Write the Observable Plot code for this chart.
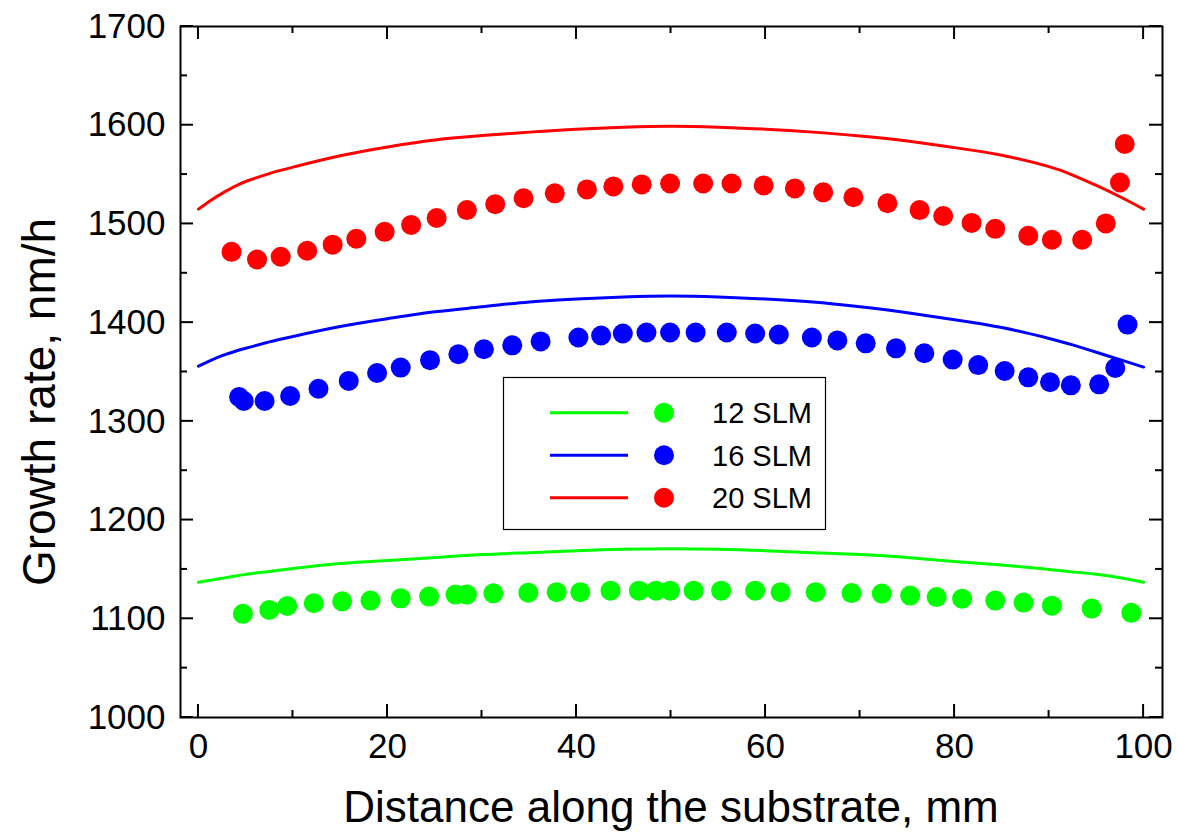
<!DOCTYPE html>
<html><head><meta charset="utf-8">
<script src="https://cdn.jsdelivr.net/npm/d3@7"></script>
<script src="https://cdn.jsdelivr.net/npm/@observablehq/plot@0.6"></script>
<style>body{margin:0;background:#fff} #chart{width:1178px;height:832px}</style>
</head><body><div id="chart"></div>
<script>
// ---- data ----
const seriesNames = ["12 SLM", "16 SLM", "20 SLM"];
const seriesColors = ["#00ff00", "#0000ff", "#ff0000"];

const greenX = [4.7,7.5,9.4,12.2,15.2,18.2,21.4,24.4,27.2,28.4,31.2,34.9,37.9,40.4,43.6,46.6,48.4,49.9,52.4,55.3,58.9,61.6,65.3,69.1,72.3,75.3,78.1,80.8,84.3,87.3,90.3,94.5,98.7];
const greenY = [1105,1109,1113,1115.7,1117.7,1118.4,1120.7,1122.5,1124.5,1124.5,1125.8,1126.5,1127,1127,1128.5,1128.5,1128.5,1128.5,1128.5,1128.5,1128.5,1127,1127,1126,1125.5,1123.5,1122,1120.4,1118.4,1116.4,1113.3,1110.3,1106];

const blueX = [4.3,4.8,7.0,9.7,12.7,15.9,18.9,21.4,24.5,27.5,30.2,33.2,36.2,40.2,42.6,44.9,47.4,49.9,52.6,55.9,58.9,61.4,64.9,67.6,70.6,73.8,76.8,79.8,82.5,85.3,87.8,90.1,92.3,95.3,97.0,98.3];
const blueY = [1324.7,1320.6,1320.6,1325.7,1333,1341,1349,1354.5,1362,1368,1373,1377,1381,1385,1387,1389,1390,1390,1390,1390,1389,1388,1385,1382,1379,1374,1369,1362.6,1357,1351,1344.6,1339.6,1336.5,1337.5,1354,1398];

const redX = [3.5,6.2,8.7,11.5,14.2,16.7,19.7,22.5,25.2,28.4,31.4,34.4,37.7,41.1,43.9,46.9,49.9,53.4,56.4,59.8,63.1,66.1,69.3,72.9,76.3,78.8,81.8,84.3,87.8,90.3,93.5,96.0,97.5,98.0];
const redY = [1471.7,1464,1466.7,1472.8,1479,1485,1492,1499,1506,1514,1520,1526,1531,1535,1538,1540,1541,1541,1541,1539,1536,1532,1527,1521,1514,1508,1501,1495,1488,1484,1484,1500.5,1542,1581];

const lineX = [0,1.25,2.5,3.75,5,7.5,10,15,20,25,30,35,40,45,50,55,60,65,70,75,80,85,90,92.5,95,97.5,100];
const greenLine = [1137,1139,1141,1143,1145,1148,1151,1156,1159,1162,1165,1167,1169,1170.5,1171,1170.5,1169,1167,1165,1162,1158,1154.5,1150,1147.5,1145,1141.5,1137];
const blueLine  = [1356,1361.5,1366.5,1370.5,1374,1380.5,1386,1396,1404,1411,1416,1421,1424,1426,1427,1426,1424,1421,1416,1410,1403,1395,1384,1377.5,1370,1362.5,1355];
const redLine   = [1515,1523.5,1531,1537.5,1543,1551,1557.5,1569,1578,1585,1589.5,1593,1596,1598,1599,1598,1596,1593,1589,1584,1577.3,1569.5,1558,1549.5,1539,1527.5,1515];

const xMajor = [0,20,40,60,80,100];
const xMinor = [10,30,50,70,90];
const yMajor = [1000,1100,1200,1300,1400,1500,1600,1700];
const yMinor = [1050,1150,1250,1350,1450,1550,1650];

const xLabel = "Distance along the substrate, mm";
const yLabel = "Growth rate, nm/h";

// ---- chart ----
const FONT = "'Liberation Sans', Arial, Helvetica, sans-serif";
const W = 1178, H = 832, ML = 180, MR = 16, MT = 26, MB = 115;
const MAJ = 13, MIN = 7;   // inward tick lengths (px)

const plot = Plot.plot({
  width: W, height: H,
  marginLeft: ML, marginRight: MR, marginTop: MT, marginBottom: MB,
  style: {fontFamily: FONT, background: "#fff", color: "#000"},
  x: {domain: [-1.9, 102]},
  y: {domain: [1000, 1700]},
  marks: [
    // tick labels
    Plot.axisY({anchor: "left", ticks: yMajor, tickSize: 0, tickPadding: 15, fontSize: 35, label: null, tickFormat: d => String(d), fill: "#000"}),
    Plot.axisX({anchor: "bottom", ticks: xMajor, tickSize: 0, tickPadding: 16, fontSize: 35, label: null, tickFormat: d => String(d), fill: "#000"}),
    // fitted lines
    Plot.line(lineX, {x: lineX, y: greenLine, stroke: seriesColors[0], strokeWidth: 3, curve: "natural"}),
    Plot.line(lineX, {x: lineX, y: blueLine, stroke: seriesColors[1], strokeWidth: 3, curve: "natural"}),
    Plot.line(lineX, {x: lineX, y: redLine, stroke: seriesColors[2], strokeWidth: 3, curve: "natural"}),
    // measured points
    Plot.dot(greenX, {x: greenX, y: greenY, r: 10, fill: seriesColors[0], stroke: null}),
    Plot.dot(blueX, {x: blueX, y: blueY, r: 10, fill: seriesColors[1], stroke: null}),
    Plot.dot(redX, {x: redX, y: redY, r: 10, fill: seriesColors[2], stroke: null}),
    Plot.frame({stroke: "#000", strokeWidth: 2})
  ]
});

const svg = d3.select(plot);
const sx = plot.scale("x"), sy = plot.scale("y");
const L = ML, R = W - MR, T = MT, B = H - MB;

// inward ticks on all four sides, positioned through Plot's scales
const tg = svg.append("g").attr("stroke", "#000").attr("stroke-width", 2);
const addY = (vals, len) => vals.forEach(v => {
  const y = sy.apply(v);
  tg.append("line").attr("x1", L).attr("x2", L + len).attr("y1", y).attr("y2", y);
  tg.append("line").attr("x1", R).attr("x2", R - len).attr("y1", y).attr("y2", y);
});
const addX = (vals, len) => vals.forEach(v => {
  const x = sx.apply(v);
  tg.append("line").attr("x1", x).attr("x2", x).attr("y1", B).attr("y2", B - len);
  tg.append("line").attr("x1", x).attr("x2", x).attr("y1", T).attr("y2", T + len);
});
addY(yMajor, MAJ); addY(yMinor, MIN);
addX(xMajor, MAJ); addX(xMinor, MIN);

// axis titles
svg.append("text").attr("x", 671).attr("y", 822).attr("text-anchor", "middle")
  .attr("font-size", 44).attr("font-family", FONT).attr("fill", "#000").text(xLabel);
svg.append("text").attr("transform", "translate(55,402) rotate(-90)").attr("text-anchor", "middle")
  .attr("font-size", 46).attr("font-family", FONT).attr("fill", "#000").text(yLabel);

// legend
const lg = svg.append("g");
lg.append("rect").attr("x", 503.5).attr("y", 377.5).attr("width", 322).attr("height", 152)
  .attr("fill", "#fff").attr("stroke", "#000").attr("stroke-width", 1.2);
const rowY = [412.7, 455.3, 497.7];
seriesNames.forEach((name, i) => {
  lg.append("line").attr("x1", 550).attr("x2", 628).attr("y1", rowY[i]).attr("y2", rowY[i])
    .attr("stroke", seriesColors[i]).attr("stroke-width", 3);
  lg.append("circle").attr("cx", 664).attr("cy", rowY[i]).attr("r", 10).attr("fill", seriesColors[i]);
  lg.append("text").attr("x", 712).attr("y", rowY[i] + 10.5).attr("font-size", 29)
    .attr("text-anchor", "start").attr("font-family", FONT).attr("fill", "#000").text(name);
});

document.getElementById("chart").appendChild(plot);
</script>
</body></html>
